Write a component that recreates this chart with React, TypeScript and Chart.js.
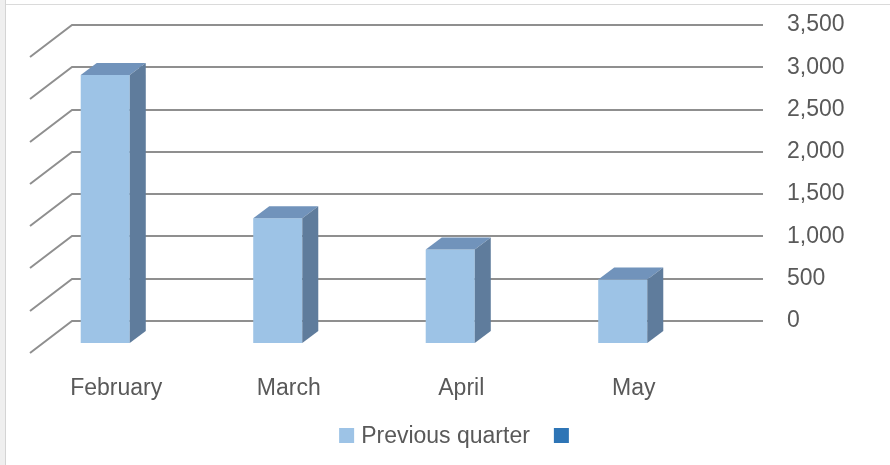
import React, { useEffect, useRef } from 'react';
import { Chart, registerables } from 'chart.js';

Chart.register(...registerables);

// ---- data ----
const categories = ['February', 'March', 'April', 'May'];
const previousQuarter = [3170, 1475, 1105, 750];
const seriesLabels = ['Previous quarter', ''];
const seriesColors = ['#9dc3e6', '#2e75b6'];
const yMin = 0;
const yMax = 3500;
const yStep = 500;

// ---- style ----
const FONT = "'Liberation Sans', Arial, sans-serif";
const FONT_SIZE = 23;
const TEXT = '#595959';
const GRID = '#8f8f8f';
const TOP_FACE = '#7193bb';
const SIDE_FACE = '#5f7c9c';

// oblique "3D" offsets
const BAR_DX = 16;
const BAR_DY = -12;
const WALL_DY = -22;
const FLOOR_DX = -42;
const FLOOR_DY = 32;

const threeD = {
  id: 'threeD',
  beforeDatasetsDraw(chart: any) {
    const { ctx, chartArea, scales } = chart;
    const y = scales.y;
    const wallL = chartArea.left + 53;
    const wallR = chartArea.right + 54;
    ctx.save();
    ctx.strokeStyle = GRID;
    ctx.lineWidth = 2;
    y.ticks.forEach((t: any) => {
      const py = Math.round(y.getPixelForValue(t.value) + WALL_DY);
      ctx.beginPath();
      ctx.moveTo(wallL + FLOOR_DX, py + FLOOR_DY);
      ctx.lineTo(wallL, py);
      ctx.lineTo(wallR, py);
      ctx.stroke();
    });
    ctx.restore();
  },
  afterDatasetsDraw(chart: any) {
    const { ctx } = chart;
    ctx.save();
    chart.data.datasets.forEach((ds: any, di: number) => {
      const meta = chart.getDatasetMeta(di);
      meta.data.forEach((bar: any) => {
        const { x, y, base, width } = bar.getProps(['x', 'y', 'base', 'width'], true);
        const l = x - width / 2;
        const r = x + width / 2;
        ctx.fillStyle = TOP_FACE;
        ctx.beginPath();
        ctx.moveTo(l, y);
        ctx.lineTo(l + BAR_DX, y + BAR_DY);
        ctx.lineTo(r + BAR_DX, y + BAR_DY);
        ctx.lineTo(r, y);
        ctx.closePath();
        ctx.fill();
        ctx.fillStyle = SIDE_FACE;
        ctx.beginPath();
        ctx.moveTo(r, y);
        ctx.lineTo(r + BAR_DX, y + BAR_DY);
        ctx.lineTo(r + BAR_DX, base + BAR_DY);
        ctx.lineTo(r, base);
        ctx.closePath();
        ctx.fill();
      });
    });
    ctx.restore();
  },
  afterDraw(chart: any) {
    const { ctx } = chart;
    ctx.save();
    ctx.font = `${FONT_SIZE}px ${FONT}`;
    ctx.textBaseline = 'middle';
    const box = 15;
    const gap = 7;
    const itemGap = 24;
    const items = chart.data.datasets.map((ds: any) => ({
      label: ds.label as string,
      color: ds.backgroundColor as string,
      w: ds.label ? ctx.measureText(ds.label).width : 0,
    }));
    let total = 0;
    items.forEach((it: any, i: number) => {
      total += box + (it.label ? gap + it.w : 0) + (i < items.length - 1 ? itemGap : 0);
    });
    let x = chart.width / 2 + 9 - total / 2;
    const cy = 435.5;
    items.forEach((it: any) => {
      ctx.fillStyle = it.color;
      ctx.fillRect(x, cy - box / 2, box, box);
      x += box;
      if (it.label) {
        x += gap;
        ctx.fillStyle = TEXT;
        ctx.fillText(it.label, x, cy + 1);
        x += it.w;
      }
      x += itemGap;
    });
    ctx.restore();
  },
};

export default function App() {
  const canvasRef = useRef<HTMLCanvasElement | null>(null);

  useEffect(() => {
    const canvas = canvasRef.current;
    if (!canvas) return;
    const chart = new Chart(canvas, {
      type: 'bar',
      data: {
        labels: categories,
        datasets: [
          {
            label: seriesLabels[0],
            data: previousQuarter,
            backgroundColor: seriesColors[0],
            borderWidth: 0,
            barPercentage: 0.2844,
            categoryPercentage: 1,
          },
          {
            label: seriesLabels[1],
            data: [],
            backgroundColor: seriesColors[1],
            borderWidth: 0,
            barPercentage: 0.2844,
            categoryPercentage: 1,
          },
        ],
      },
      options: {
        responsive: false,
        animation: false,
        datasets: { bar: { grouped: false } },
        layout: { padding: { top: 47, left: 19, right: 0, bottom: 0 } },
        plugins: {
          legend: { display: false },
          tooltip: { enabled: false },
          title: { display: false },
        },
        scales: {
          x: {
            grid: { display: false },
            border: { display: false },
            ticks: {
              color: TEXT,
              font: { family: FONT, size: FONT_SIZE },
              padding: 24,
              labelOffset: 11,
              maxRotation: 0,
              autoSkip: false,
            },
            afterFit: (s: any) => {
              s.height = 122;
              s.paddingLeft = 0;
              s.paddingRight = 0;
            },
          },
          y: {
            position: 'right',
            min: yMin,
            max: yMax,
            grid: { display: false },
            border: { display: false },
            ticks: {
              stepSize: yStep,
              color: TEXT,
              font: { family: FONT, size: FONT_SIZE },
              padding: 70,
              labelOffset: WALL_DY,
              callback: (v: any) => Number(v).toLocaleString('en-US'),
            },
            afterFit: (s: any) => {
              s.width = 181;
              s.paddingTop = 0;
              s.paddingBottom = 0;
            },
          },
        },
      } as any,
      plugins: [threeD],
    });
    return () => chart.destroy();
  }, []);

  return (
    <div style={{ position: 'fixed', left: 0, top: 0, width: 890, height: 465, background: '#ffffff', overflow: 'hidden' }}>
      <div style={{ position: 'absolute', left: 0, top: 0, width: 5, height: 465, background: '#efefef', borderRight: '1px solid #d4d4d4' }} />
      <div style={{ position: 'absolute', left: 6, top: 4, width: 884, height: 1, background: '#dadada' }} />
      <canvas ref={canvasRef} width={890} height={465} style={{ display: 'block', position: 'absolute', left: 0, top: 0 }} />
    </div>
  );
}
